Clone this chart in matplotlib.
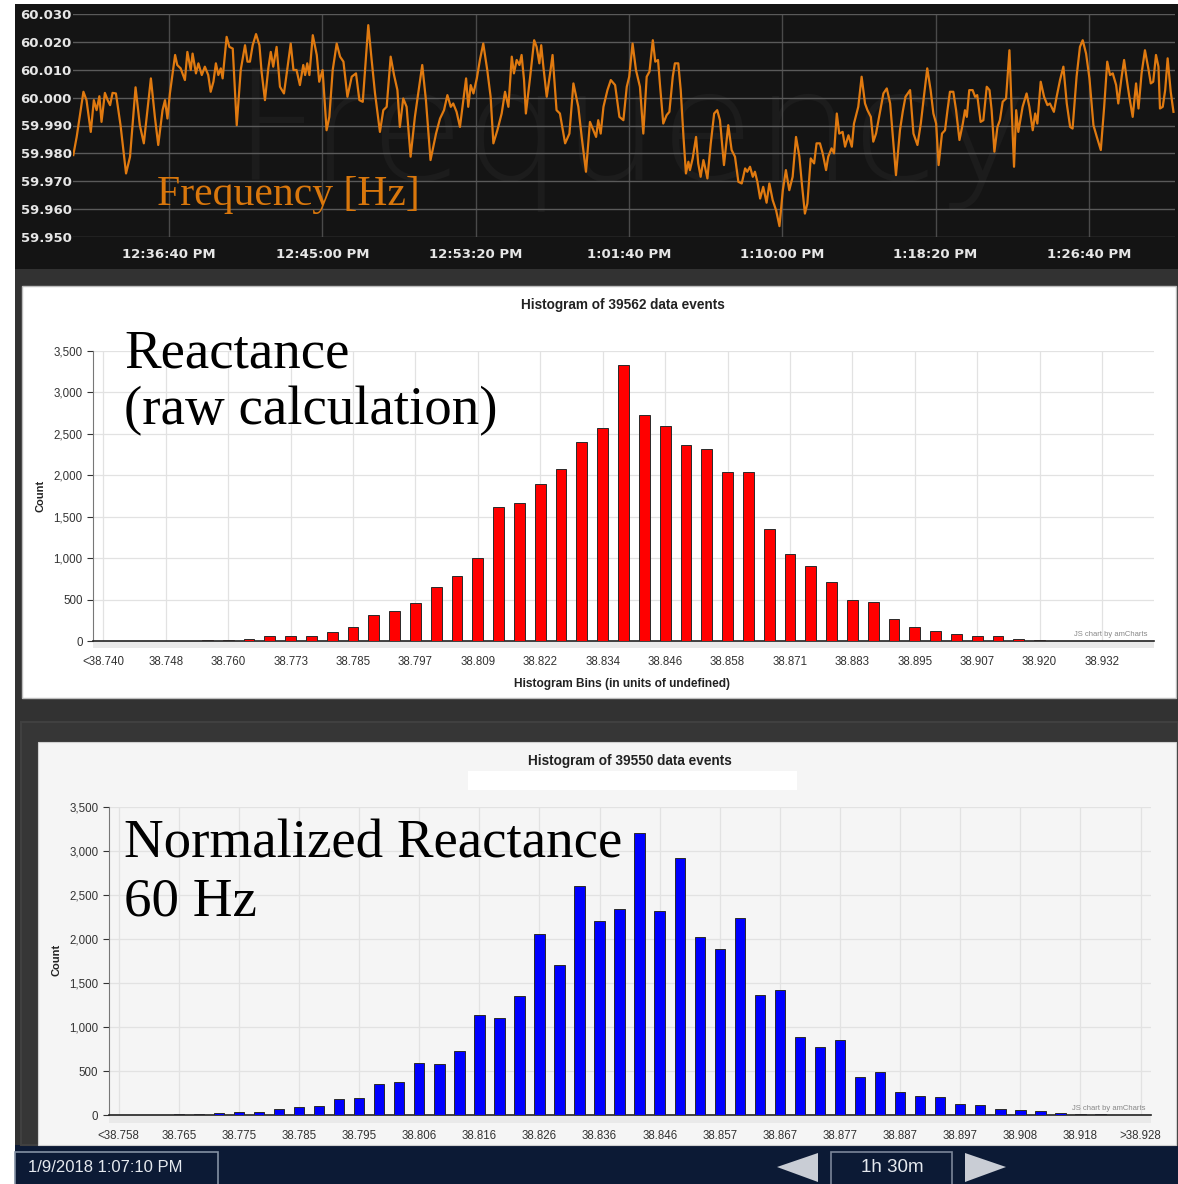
import matplotlib
matplotlib.use('Agg')
import matplotlib.pyplot as plt
from matplotlib.patches import Rectangle, Polygon
from matplotlib.ticker import FuncFormatter, FixedLocator, MultipleLocator

W, H = 1178, 1184

# ---- frequency trace (seconds after 12:30:00 PM, Hz)
freq_time_s = [
    88, 99, 121, 131, 145, 155, 164, 173, 180, 191,
    200, 208, 216, 227, 242, 260, 273, 291, 305, 318,
    341, 354, 365, 379, 387, 395, 403, 420, 427, 438,
    452, 460, 471, 477, 488, 496, 507, 517, 528, 536,
    545, 553, 561, 569, 575, 588, 597, 608, 621, 634,
    648, 656, 664, 673, 684, 695, 702, 713, 724, 732,
    740, 751, 762, 775, 784, 797, 806, 816, 827, 838,
    844, 851, 858, 869, 882, 890, 901, 914, 923, 934,
    947, 958, 969, 982, 996, 1010, 1021, 1032,
    1050, 1061, 1072, 1088, 1099, 1110, 1123, 1134, 1145, 1153,
    1164, 1175, 1188, 1202, 1226, 1238, 1253, 1271, 1284, 1297,
    1308, 1319, 1327, 1338, 1349, 1360, 1369, 1376, 1384, 1393,
    1404, 1414, 1425, 1438, 1449, 1458, 1471, 1485, 1496, 1507,
    1518, 1525, 1534, 1543, 1550, 1558, 1564, 1578, 1591, 1599,
    1608, 1614, 1621, 1632, 1643, 1651, 1664, 1675, 1692, 1706,
    1719, 1735, 1746, 1760, 1773, 1784, 1793, 1800, 1808, 1817,
    1830, 1841, 1855, 1869, 1882, 1893, 1901, 1912, 1923, 1936,
    1947, 1958, 1967, 1978,
    1986, 1995, 2001, 2012, 2023, 2032, 2043, 2050, 2061, 2069,
    2078, 2086, 2094, 2099, 2108, 2119, 2126, 2134, 2143, 2148,
    2156, 2167, 2178, 2188, 2197, 2210, 2224, 2235, 2246, 2257,
    2268, 2279, 2286, 2295, 2304, 2311, 2319, 2328, 2338, 2349,
    2358, 2369, 2380, 2391, 2402, 2412, 2423, 2434, 2445, 2456,
    2464, 2474, 2482, 2493, 2504, 2512, 2523, 2532, 2543, 2550,
    2561, 2569, 2578, 2586, 2597, 2605, 2616, 2627, 2634, 2648,
    2659, 2670, 2678, 2689, 2697, 2706, 2719, 2730, 2741, 2752,
    2771, 2784, 2793, 2802, 2817, 2828, 2841, 2852, 2862, 2873,
    2884, 2893, 2902, 2910, 2921, 2931,
    2939, 2947, 2958, 2967, 2978, 2989, 2996, 3002, 3010, 3021,
    3029, 3036, 3047, 3056, 3067, 3076, 3083, 3092, 3102, 3110,
    3119, 3130, 3141, 3148, 3156, 3163, 3170, 3184, 3197, 3206,
    3217, 3225, 3232, 3243, 3254, 3265, 3273, 3286, 3295, 3306,
    3317, 3328, 3339, 3347, 3360, 3371, 3380, 3391, 3402, 3415,
    3426, 3439, 3450, 3460, 3469, 3478, 3489, 3496, 3507, 3515,
    3524, 3532, 3543, 3554, 3562, 3572, 3583, 3594, 3602, 3610,
    3619, 3627, 3632, 3641, 3649, 3657, 3667, 3676,
]
freq_hz = [
    59.9794, 59.9859, 60.0021, 59.9991, 59.9877, 59.9991, 59.9955, 60.0005, 59.9913, 60.0017,
    59.9991, 59.9973, 60.0017, 60.0015, 59.9901, 59.9728, 59.9788, 60.0037, 59.9901, 59.9836,
    60.0069, 59.9931, 59.9830, 59.9955, 59.9991, 59.9925, 60.0015, 60.0153, 60.0117, 60.0105,
    60.0063, 60.0164, 60.0099, 60.0158, 60.0087, 60.0123, 60.0081, 60.0111, 60.0081, 60.0021,
    60.0057, 60.0123, 60.0081, 60.0105, 60.0069, 60.0218, 60.0182, 60.0176, 59.9901, 60.0099,
    60.0188, 60.0129, 60.0129, 60.0188, 60.0228, 60.0188, 60.0093, 59.9991, 60.0105, 60.0164,
    60.0111, 60.0182, 60.0039, 60.0015, 60.0087, 60.0194, 60.0099, 60.0099, 60.0045, 60.0117,
    60.0081, 60.0123, 60.0081, 60.0224, 60.0153, 60.0057, 60.0099, 59.9883, 59.9931, 60.0099,
    60.0194, 60.0147, 60.0129, 60.0003, 60.0075, 60.0087, 59.9991, 59.9985,
    60.0260, 60.0135, 60.0015, 59.9877, 59.9955, 59.9967, 60.0147, 60.0081, 60.0027, 59.9895,
    59.9997, 59.9967, 59.9788, 59.9931, 60.0117, 59.9991, 59.9776, 59.9871, 59.9925, 59.9955,
    60.0009, 59.9967, 59.9979, 59.9949, 59.9895, 59.9991, 60.0069, 59.9967, 60.0045, 60.0015,
    60.0069, 60.0135, 60.0194, 60.0099, 60.0003, 59.9836, 59.9883, 59.9943, 60.0021, 59.9967,
    60.0147, 60.0087, 60.0135, 60.0117, 60.0153, 60.0063, 59.9943, 60.0075, 60.0206, 60.0182,
    60.0123, 60.0188, 60.0111, 60.0003, 60.0087, 60.0153, 59.9955, 59.9943, 59.9836, 59.9871,
    60.0051, 59.9967, 59.9859, 59.9734, 59.9913, 59.9883, 59.9859, 59.9919, 59.9871, 59.9967,
    60.0027, 60.0063, 60.0045, 59.9931, 59.9919, 60.0039, 60.0075, 60.0194, 60.0099, 60.0039,
    59.9871, 60.0075, 60.0093, 60.0206,
    60.0129, 60.0135, 60.0051, 59.9907, 59.9937, 59.9949, 60.0075, 60.0123, 60.0123, 60.0027,
    59.9859, 59.9728, 59.9770, 59.9740, 59.9782, 59.9859, 59.9764, 59.9716, 59.9776, 59.9752,
    59.9710, 59.9836, 59.9943, 59.9955, 59.9919, 59.9758, 59.9901, 59.9812, 59.9788, 59.9698,
    59.9692, 59.9746, 59.9734, 59.9752, 59.9716, 59.9734, 59.9698, 59.9638, 59.9680, 59.9623,
    59.9692, 59.9632, 59.9596, 59.9539, 59.9668, 59.9740, 59.9668, 59.9716, 59.9859, 59.9788,
    59.9692, 59.9584, 59.9620, 59.9782, 59.9764, 59.9836, 59.9836, 59.9800, 59.9740, 59.9788,
    59.9818, 59.9800, 59.9943, 59.9871, 59.9877, 59.9824, 59.9865, 59.9824, 59.9907, 59.9967,
    60.0075, 59.9979, 59.9955, 59.9931, 59.9842, 59.9871, 59.9949, 60.0015, 60.0033, 59.9979,
    59.9722, 59.9883, 59.9949, 60.0003, 60.0027, 59.9871, 59.9830, 59.9907, 60.0003, 60.0105,
    60.0027, 59.9943, 59.9907, 59.9758, 59.9871, 59.9883,
    59.9955, 60.0021, 60.0021, 59.9955, 59.9848, 59.9907, 59.9955, 59.9931, 60.0027, 60.0027,
    60.0003, 60.0009, 59.9913, 59.9919, 60.0039, 60.0027, 59.9955, 59.9806, 59.9895, 59.9919,
    59.9985, 59.9997, 60.0170, 59.9967, 59.9752, 59.9955, 59.9877, 59.9967, 60.0015, 59.9967,
    59.9883, 59.9943, 59.9907, 60.0057, 60.0003, 59.9973, 59.9979, 59.9949, 60.0003, 60.0063,
    60.0111, 59.9979, 59.9895, 59.9889, 60.0075, 60.0182, 60.0206, 60.0158, 60.0069, 59.9901,
    59.9859, 59.9812, 59.9967, 60.0129, 60.0081, 60.0087, 60.0045, 59.9979, 60.0075, 60.0135,
    60.0063, 60.0003, 59.9931, 60.0051, 59.9961, 60.0087, 60.0170, 60.0105, 60.0051, 60.0057,
    60.0153, 60.0111, 59.9961, 59.9967, 60.0027, 60.0141, 60.0021, 59.9949,
]
freq_ticks_s = [400, 900, 1400, 1900, 2400, 2900, 3400]

# ---- histogram of raw reactance (51 bins)
raw_counts = [
    2, 2, 3, 3, 5, 8, 15, 28, 56, 56,
    64, 104, 165, 310, 362, 462, 655, 788, 1005, 1620,
    1668, 1893, 2074, 2400, 2569, 3337, 2726, 2597, 2364, 2320,
    2034, 2034, 1355, 1053, 905, 708, 494, 470, 261, 173,
    125, 88, 64, 56, 28, 16, 6, 3, 2, 1, 1,
]
raw_labels = ['<38.740', '38.748', '38.760', '38.773', '38.785', '38.797',
              '38.809', '38.822', '38.834', '38.846', '38.858', '38.871',
              '38.883', '38.895', '38.907', '38.920', '38.932']

# ---- histogram of normalized reactance (52 bins)
norm_counts = [
    2, 2, 3, 8, 8, 23, 30, 30, 72, 87,
    98, 182, 193, 348, 371, 590, 583, 727, 1139, 1105,
    1347, 2055, 1710, 2603, 2206, 2346, 3206, 2316, 2921, 2028,
    1888, 2233, 1366, 1423, 889, 768, 848, 435, 492, 265,
    212, 204, 129, 117, 72, 57, 45, 26, 10, 6, 4, 3,
]
norm_labels = ['<38.758', '38.765', '38.775', '38.785', '38.795', '38.806',
               '38.816', '38.826', '38.836', '38.846', '38.857', '38.867',
               '38.877', '38.887', '38.897', '38.908', '38.918', '>38.928']


def rect(x0, y0, x1, y1):
    # pixel box (top-left origin) -> figure fraction
    return [x0 / W, 1 - y1 / H, (x1 - x0) / W, (y1 - y0) / H]


def fx(x):
    return x / W


def fy(y):
    return 1 - y / H


def box(x0, y0, x1, y1, **kw):
    r = Rectangle((x0 / W, 1 - y1 / H), (x1 - x0) / W, (y1 - y0) / H,
                  transform=fig.transFigure, **kw)
    fig.add_artist(r)
    return r


def clock(s, pos=None):
    tot = 12 * 3600 + 30 * 60 + int(round(s))
    h = tot // 3600
    m = (tot % 3600) // 60
    sec = tot % 60
    hh = h if h <= 12 else h - 12
    return f'{hh}:{m:02d}:{sec:02d} PM'


fig = plt.figure(figsize=(W / 100, H / 100), dpi=100)
fig.patch.set_facecolor('white')

# backgrounds
box(15, 4, 1178, 269, facecolor='#141414', edgecolor='none', zorder=-10)
box(15, 269, 1178, 1145, facecolor='#323232', edgecolor='none', zorder=-10)
box(22, 286, 1176, 698, facecolor='white', edgecolor='#bdbdbd', lw=1, zorder=-9)
box(21, 722, 1178, 1145, facecolor='#363636', edgecolor='#404040', lw=1.5, zorder=-9)
box(38, 742, 1176, 1145, facecolor='#f5f5f5', edgecolor='#d0d0d0', lw=0.8, zorder=-8)
box(15, 1145, 1178, 1184, facecolor='#0c1a35', edgecolor='none', zorder=-10)

# ---- frequency panel
ax = fig.add_axes(rect(73, 14, 1175, 237))
ax.set_facecolor('#141414')
ax.plot(freq_time_s, freq_hz, color='#e07a10', lw=1.6, zorder=3)
ax.set_xlim(87, 3681)
ax.set_ylim(59.950, 60.030)
ax.yaxis.set_major_locator(MultipleLocator(0.01))
ax.yaxis.set_major_formatter(FuncFormatter(lambda v, p: f'{v:.3f}'))
ax.xaxis.set_major_locator(FixedLocator(freq_ticks_s))
ax.xaxis.set_major_formatter(FuncFormatter(clock))
ax.tick_params(length=0, colors='#e6e6e6', labelsize=9.5)
ax.tick_params(axis='x', pad=8)
ax.tick_params(axis='y', pad=1)
for lab in ax.get_xticklabels() + ax.get_yticklabels():
    lab.set_fontweight('bold')
ax.grid(True, axis='y', color='#5a5a5a', lw=1)
ax.grid(True, axis='x', color='#4a4a4a', lw=1)
ax.set_axisbelow(True)
for s in ax.spines.values():
    s.set_visible(False)
# faint watermark behind the trace
ax.text(fx(232), fy(180), 'Frequency', transform=fig.transFigure,
        family='DejaVu Sans', weight='light', fontsize=111, color='#1c1c1c',
        va='baseline', ha='left', zorder=0.2)
fig.text(fx(157), fy(205), 'Frequency [Hz]', family='Liberation Serif',
         fontsize=30, color='#d9770c', va='baseline', ha='left')


def histogram(axh, counts, labels, color, face):
    n = len(counts)
    idx = list(range(n))
    axh.set_facecolor(face)
    axh.bar(idx, counts, width=0.52, color=color, edgecolor='#2a2a2a', lw=0.7, zorder=3)
    axh.set_xlim(-0.5, n - 0.5)
    axh.set_ylim(0, 3500)
    axh.yaxis.set_major_locator(MultipleLocator(500))
    axh.yaxis.set_major_formatter(FuncFormatter(lambda v, p: f'{int(v):,}'))
    axh.set_xticks(idx[::3])
    axh.set_xticklabels(labels)
    axh.tick_params(labelsize=8.3, colors='#333333', length=4, width=0.8)
    axh.tick_params(axis='x', pad=7)
    for lab in axh.get_xticklabels() + axh.get_yticklabels():
        lab.set_family('Liberation Sans')
    axh.grid(True, color='#e2e2e2', lw=0.9)
    axh.set_axisbelow(True)
    for k in ('top', 'right'):
        axh.spines[k].set_visible(False)
    axh.spines['left'].set_color('#777777')
    axh.spines['bottom'].set_color('#222222')
    axh.spines['bottom'].set_linewidth(1.2)
    axh.add_patch(Rectangle((0, -0.025), 1, 0.025, transform=axh.transAxes,
                            facecolor='#e9e9e9', edgecolor='none', clip_on=False, zorder=1))


# ---- raw reactance histogram
ax1 = fig.add_axes(rect(93, 351, 1154, 641))
histogram(ax1, raw_counts, raw_labels, '#ff0000', 'white')
fig.text(fx(623), fy(305), 'Histogram of 39562 data events', family='Liberation Sans',
         weight='bold', fontsize=9.8, color='#222222', ha='center', va='center')
fig.text(fx(622), fy(684), 'Histogram Bins (in units of undefined)', family='Liberation Sans',
         weight='bold', fontsize=8.6, color='#222222', ha='center', va='center')
fig.text(fx(41), fy(496), 'Count', family='Liberation Sans', weight='bold', fontsize=8,
         color='#222222', rotation=90, ha='center', va='center')
fig.text(fx(1148), fy(634), 'JS chart by amCharts', family='Liberation Sans', fontsize=5.5,
         color='#888888', ha='right', va='center')
fig.text(fx(124), fy(367), 'Reactance', family='Liberation Serif', fontsize=39.5,
         color='black', va='baseline', ha='left')
fig.text(fx(124), fy(424), '(raw calculation)', family='Liberation Serif', fontsize=39.5,
         color='black', va='baseline', ha='left')

# ---- normalized reactance histogram
ax2 = fig.add_axes(rect(108.7, 807, 1150.6, 1115))
histogram(ax2, norm_counts, norm_labels, '#0000ff', '#f5f5f5')
box(468, 771, 797, 790, facecolor='white', edgecolor='none', zorder=-7)
fig.text(fx(630), fy(761), 'Histogram of 39550 data events', family='Liberation Sans',
         weight='bold', fontsize=9.8, color='#222222', ha='center', va='center')
fig.text(fx(56), fy(960), 'Count', family='Liberation Sans', weight='bold', fontsize=8,
         color='#222222', rotation=90, ha='center', va='center')
fig.text(fx(1146), fy(1108), 'JS chart by amCharts', family='Liberation Sans', fontsize=5.5,
         color='#888888', ha='right', va='center')
fig.text(fx(124), fy(858), 'Normalized Reactance', family='Liberation Serif', fontsize=39.5,
         color='black', va='baseline', ha='left')
fig.text(fx(124), fy(915), '60 Hz', family='Liberation Serif', fontsize=39.5,
         color='black', va='baseline', ha='left')

# ---- navigation bar
box(15, 1152, 218, 1192, facecolor='#0c1a35', edgecolor='#8390a3', lw=1.2, zorder=-5)
fig.text(fx(28), fy(1168), '1/9/2018 1:07:10 PM', family='Liberation Sans', fontsize=12,
         color='#e4e8ee', ha='left', va='center')
box(831, 1152, 952, 1192, facecolor='#0c1a35', edgecolor='#7b8699', lw=1.2, zorder=-5)
fig.text(fx(892), fy(1167), '1h 30m', family='Liberation Sans', fontsize=13.5,
         color='#e4e8ee', ha='center', va='center')
fig.add_artist(Polygon([(fx(777), fy(1167)), (fx(818), fy(1153)), (fx(818), fy(1182))],
                       closed=True, transform=fig.transFigure, facecolor='#c9cdd5',
                       edgecolor='none'))
fig.add_artist(Polygon([(fx(965), fy(1153)), (fx(965), fy(1182)), (fx(1006), fy(1167))],
                       closed=True, transform=fig.transFigure, facecolor='#c9cdd5',
                       edgecolor='none'))

fig.savefig('out.png', dpi=100, facecolor=fig.get_facecolor())
